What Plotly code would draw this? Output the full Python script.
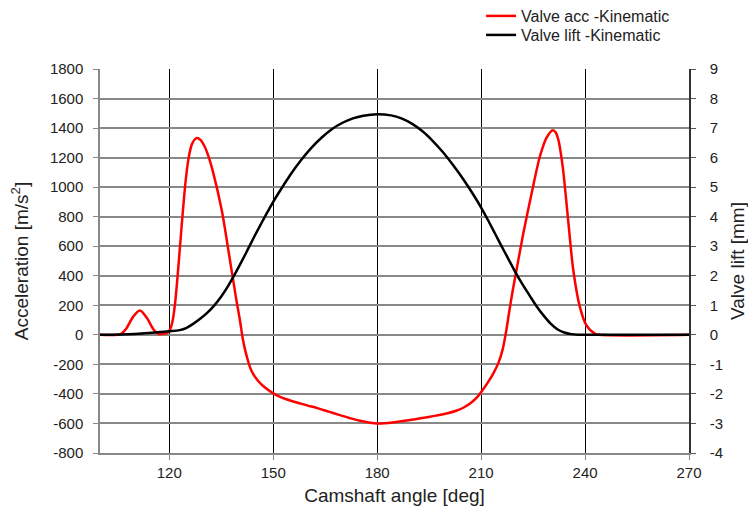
import plotly.graph_objects as go

# Camshaft angle [deg] and valve acceleration [m/s^2]
acc_angle = [100, 105, 106, 107.5, 109.5, 111.5, 113.5, 115.5, 117, 118.5, 119.5, 120.3, 121, 121.7,
             122.4, 123.2, 124, 124.8, 125.6, 126.6, 127.9, 129, 130.3, 131.5, 132.6, 135.1, 137.5,
             139.4, 140.4, 141.3, 142.3, 143.7, 145.6, 147.6, 150, 152, 154, 156, 158, 160, 163,
             166, 169, 172, 175, 178, 180, 182, 185, 188, 191, 194, 197, 200, 203, 205, 207, 209,
             210.5, 212, 213.5, 215, 216.2, 217.2, 218.2, 219.2, 220.3, 222.2, 224.6, 227, 228.9,
             230.7, 231.5, 232.3, 233, 233.7, 235.2, 236.6, 238.5, 240.4, 242.9, 244.3, 270]
acc_values = [0, 0, 5, 40, 120, 165, 115, 35, 5, 8, 15, 40, 100, 220,
              400, 630, 860, 1060, 1200, 1295, 1332, 1320, 1270, 1195, 1105, 848, 507,
              230, 97, -39, -141, -243, -311, -357, -396, -420, -438, -453, -466, -479, -498,
              -520, -542, -563, -582, -595, -600, -599, -592, -582, -571, -559, -547, -533, -512, -492, -462, -418,
              -372, -320, -262, -190, -100, 20, 170, 310, 450, 689, 961, 1211, 1336,
              1386, 1372, 1320, 1230, 1110, 757, 439, 189, 64, 7, 0, 0]

# Camshaft angle [deg] and valve lift [mm]
lift_angle = [100, 104, 108, 112, 116, 120, 123, 125, 127, 129, 131, 133, 135, 137, 139, 141,
              143, 145, 147, 149, 151, 153, 155, 158, 161, 164, 167, 170, 173, 176, 180, 184,
              187, 190, 193, 196, 199, 202, 205, 208, 210, 212, 214, 216, 218, 220, 222, 224,
              226, 228, 230, 232, 234, 236, 238, 240, 270]
lift_values = [0, 0.005, 0.02, 0.045, 0.08, 0.12, 0.16, 0.24, 0.38, 0.55, 0.75, 1.0, 1.3, 1.66, 2.07, 2.51,
               2.97, 3.43, 3.87, 4.3, 4.7, 5.07, 5.43, 5.91, 6.33, 6.68, 6.97, 7.18, 7.33, 7.42, 7.47, 7.43,
               7.33, 7.15, 6.9, 6.57, 6.18, 5.73, 5.24, 4.7, 4.31, 3.88, 3.43, 2.98, 2.54, 2.1, 1.7, 1.33,
               0.97, 0.66, 0.39, 0.19, 0.08, 0.025, 0.005, 0, 0]

x_ticks = [120, 150, 180, 210, 240, 270]
acc_ticks = list(range(-800, 1801, 200))
lift_ticks = list(range(-4, 10))

FONT = "Liberation Sans, Arial, sans-serif"
TXT = "#222222"

fig = go.Figure()
fig.add_trace(go.Scatter(
    x=acc_angle, y=acc_values, name="Valve acc -Kinematic", mode="lines",
    line=dict(color="#ff0000", width=2.5, shape="spline", smoothing=0.9),
    yaxis="y", legend="legend"))
fig.add_trace(go.Scatter(
    x=lift_angle, y=lift_values, name="Valve lift -Kinematic", mode="lines",
    line=dict(color="#000000", width=2.5, shape="spline", smoothing=0.9),
    yaxis="y2", legend="legend2"))

legend_common = dict(xanchor="left", yanchor="middle", font=dict(size=16, color=TXT),
                     bgcolor="rgba(0,0,0,0)", itemwidth=30)

# page body adds an 8px offset, so the figure is 748x510 with shifted margins
fig.update_layout(
    width=748, height=510,
    margin=dict(l=92, r=67, t=61, b=65, autoexpand=False),
    paper_bgcolor="white", plot_bgcolor="white",
    font=dict(family=FONT, size=15, color=TXT),
    showlegend=True,
    legend=dict(x=0.647, y=1.138, **legend_common),
    legend2=dict(x=0.647, y=1.0885, **legend_common),
    xaxis=dict(range=[100, 270], tickvals=x_ticks, ticktext=[str(v) for v in x_ticks],
               showgrid=True, gridcolor="#000000", gridwidth=1,
               showline=True, linecolor="#888888", linewidth=1.5, mirror=False,
               ticks="outside", ticklen=5, tickcolor="#888888", zeroline=False,
               ticklabelstandoff=0,
               tickfont=dict(size=15, color=TXT),
               title=dict(text="Camshaft angle [deg]", font=dict(size=19, color=TXT), standoff=9)),
    yaxis=dict(range=[-800, 1800], tickvals=acc_ticks, ticktext=[str(v) for v in acc_ticks],
               showgrid=True, gridcolor="#888888", gridwidth=1.5,
               showline=True, linecolor="#888888", linewidth=1.5,
               ticks="outside", ticklen=5, tickcolor="#888888", zeroline=False,
               ticklabelstandoff=7,
               tickfont=dict(size=15, color=TXT),
               title=dict(text="Acceleration [m/s<sup>2</sup>]", font=dict(size=19, color=TXT), standoff=18)),
    yaxis2=dict(range=[-4, 9], tickvals=lift_ticks, ticktext=[str(v) for v in lift_ticks],
                overlaying="y", side="right",
                showgrid=False, showline=True, linecolor="#333333", linewidth=1.5,
                ticks="outside", ticklen=5, tickcolor="#555555", zeroline=False,
                ticklabelstandoff=11,
                tickfont=dict(size=15, color=TXT),
                title=dict(text="Valve lift [mm]", font=dict(size=19, color=TXT), standoff=9)),
)

fig.write_html("out.html")
